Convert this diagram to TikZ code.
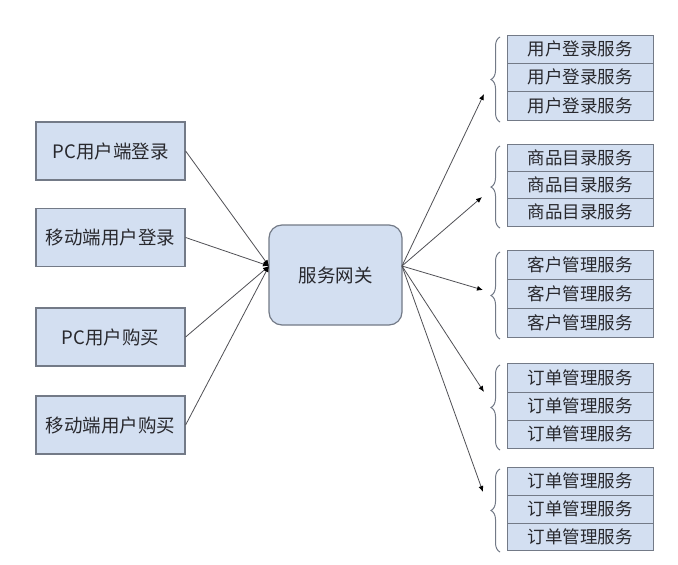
\documentclass[tikz,border=0pt]{standalone}
\usepackage{fontspec}
\setmainfont{Noto Sans CJK SC}
\usetikzlibrary{arrows.meta,decorations.pathreplacing}
\definecolor{boxfill}{RGB}{211,223,241}
\definecolor{boxline}{RGB}{115,122,135}
\definecolor{txt}{RGB}{40,40,45}
\definecolor{wire}{RGB}{80,80,85}
\tikzset{
  leftbox/.style={draw=boxline,fill=boxfill,line width=1.2pt,minimum width=149pt,minimum height=58pt,inner sep=0pt,text=txt,font=\fontsize{18.5}{18.5}\selectfont},
  hub/.style={draw=boxline,fill=boxfill,line width=1.2pt,rounded corners=13pt,minimum width=133pt,minimum height=100pt,inner sep=0pt,text=txt,font=\fontsize{18.5}{18.5}\selectfont},
  cell/.style={draw=boxline,fill=boxfill,line width=1pt,minimum width=146pt,inner sep=0pt,text=txt,font=\fontsize{17.5}{17.5}\selectfont},
  wireline/.style={draw=wire,line width=0.8pt,-{Latex[length=6pt,width=5pt,color=black]}},
  grpbrace/.style={draw=boxline,line width=1pt,decorate,decoration={brace,amplitude=9pt,mirror}}
}
\newcommand{\cellrow}[4]{%
  \node[cell,minimum height=#3pt] (#1) at (580,#2) {#4};}
\begin{document}
\begin{tikzpicture}[x=1pt,y=-1pt]
\useasboundingbox[fill=white] (0,0) rectangle (678,565);
% left boxes
\node[leftbox] (l1) at (110.5,151) {PC用户端登录};
\node[leftbox] (l2) at (110.5,237.5) {移动端用户登录};
\node[leftbox] (l3) at (110.5,337) {PC用户购买};
\node[leftbox] (l4) at (110.5,425) {移动端用户购买};
% hub
\node[hub] (hub) at (335.5,275) {服务网关};
\coordinate (gin) at (269,266);
\coordinate (gout) at (402,266);
% right groups
\cellrow{a1}{49}{28}{用户登录服务}
\cellrow{a2}{77}{28}{用户登录服务}
\cellrow{a3}{105.5}{29}{用户登录服务}
\cellrow{b1}{157.5}{27}{商品目录服务}
\cellrow{b2}{184.5}{27}{商品目录服务}
\cellrow{b3}{212}{28}{商品目录服务}
\cellrow{c1}{264.5}{29}{客户管理服务}
\cellrow{c2}{293.5}{29}{客户管理服务}
\cellrow{c3}{322.5}{29}{客户管理服务}
\cellrow{d1}{377.5}{29}{订单管理服务}
\cellrow{d2}{406}{28}{订单管理服务}
\cellrow{d3}{434}{28}{订单管理服务}
\cellrow{e1}{481}{28}{订单管理服务}
\cellrow{e2}{509}{28}{订单管理服务}
\cellrow{e3}{536.5}{27}{订单管理服务}
% braces
\draw[grpbrace] (500,37) -- (500,122);
\draw[grpbrace] (500,146) -- (500,228);
\draw[grpbrace] (500,252) -- (500,339);
\draw[grpbrace] (500,365) -- (500,450);
\draw[grpbrace] (500,469) -- (500,552);
\coordinate (t1) at (484,94);
\coordinate (t2) at (482,197);
\coordinate (t3) at (483,290);
\coordinate (t4) at (484,392);
\coordinate (t5) at (483,492);
% connectors
\foreach \n in {l1,l2,l3,l4} \draw[wireline] (\n.east) -- (gin);
\foreach \n in {t1,t2,t3,t4,t5} \draw[wireline] (gout) -- (\n);
\end{tikzpicture}
\end{document}
